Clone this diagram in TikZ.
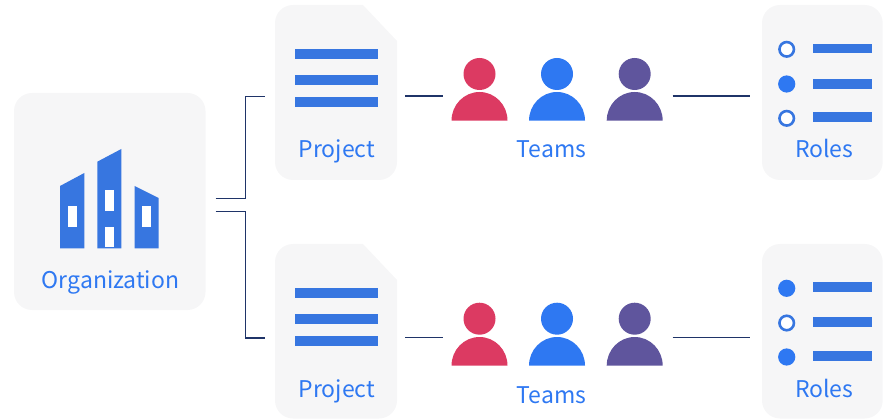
\documentclass[tikz,border=0pt]{standalone}
\usepackage{fontspec}
\setmainfont{Noto Sans CJK SC}
\definecolor{panel}{HTML}{F6F6F7}
\definecolor{iconblue}{HTML}{3776E0}
\definecolor{textblue}{HTML}{2E78F2}
\definecolor{navy}{HTML}{1F3468}
\definecolor{red1}{HTML}{DC3A62}
\definecolor{purple1}{HTML}{5F559D}
\tikzset{
  panelbox/.style={fill=panel,draw=none},
  barshape/.style={fill=iconblue,draw=none},
  wire/.style={draw=navy,line width=1.3pt},
  lbl/.style={text=textblue,font=\fontsize{23}{23}\selectfont,anchor=base,inner sep=0pt},
  ringdot/.style={circle,draw=iconblue,line width=2.6pt,fill=white,minimum size=14.5pt,inner sep=0pt},
  fulldot/.style={circle,fill=textblue,minimum size=17.2pt,inner sep=0pt},
}
\begin{document}
\begin{tikzpicture}[x=1pt,y=-1pt]
\useasboundingbox (0,0) rectangle (890,419);
% organization
\fill[panelbox,rounded corners=18pt] (14,93) rectangle (205.5,310);
\fill[barshape] (60,186) -- (84.3,173) -- (84.3,248.3) -- (60,248.3) -- cycle;
\fill[barshape] (97.3,161.7) -- (121.3,149) -- (121.3,248.3) -- (97.3,248.3) -- cycle;
\fill[barshape] (134.7,186) -- (158.7,198) -- (158.7,248.3) -- (134.7,248.3) -- cycle;
\fill[white] (68,205.7) rectangle (77.3,226.7);
\fill[white] (105,190) rectangle (114.3,210.7);
\fill[white] (105,226.7) rectangle (114.3,247.3);
\fill[white] (142,205.7) rectangle (151.3,226.7);
\node[lbl] (org) at (110.5,288) {Organization};
\coordinate (orgA) at (215.7,198.3);
\coordinate (orgB) at (215.7,211.3);
\coordinate (p1in) at (265,96.7);
\coordinate (p2in) at (265,338);
\draw[wire] (orgA) -| (245.7,96.7) -- (p1in);
\draw[wire] (orgB) -| (245.7,338) -- (p2in);
% project 1
\fill[panelbox] (275,100) [rounded corners=18pt] -- (275,5) [sharp corners] -- (363,5) -- (397,41) [rounded corners=18pt] -- (397,180) -- (275,180) -- cycle;
\fill[barshape] (295,49.3) rectangle (377.5,59.3);
\fill[barshape] (295,75) rectangle (377.5,85);
\fill[barshape] (295,97) rectangle (377.5,107);
\node[lbl] (proj1) at (336.7,158) {Project};
% project 2
\fill[panelbox] (275,340) [rounded corners=18pt] -- (275,244) [sharp corners] -- (363,244) -- (397,280) [rounded corners=18pt] -- (397,418.5) -- (275,418.5) -- cycle;
\fill[barshape] (295,288.3) rectangle (377.5,298.3);
\fill[barshape] (295,314.3) rectangle (377.5,324.3);
\fill[barshape] (295,336) rectangle (377.5,346);
\node[lbl] (proj2) at (336.7,397) {Project};
% connectors
\coordinate (a1) at (405,96); \coordinate (a2) at (442.5,96);
\coordinate (b1) at (672.5,96); \coordinate (b2) at (749.5,96);
\coordinate (c1) at (405,337.7); \coordinate (c2) at (442.5,337.7);
\coordinate (d1) at (672.5,337.7); \coordinate (d2) at (749.5,337.7);
\draw[wire] (a1) -- (a2);
\draw[wire] (b1) -- (b2);
\draw[wire] (c1) -- (c2);
\draw[wire] (d1) -- (d2);
% people top
\foreach \cx/\col in {479.5/red1,557/textblue,634.7/purple1}{
  \fill[\col] (\cx,74) circle (16);
  \fill[\col] (\cx-28,120.7) arc[start angle=180,end angle=360,x radius=28,y radius=28.7] -- cycle;
}
\node[lbl] (teams1) at (551.5,157.5) {Teams};
% people bottom
\foreach \cx/\col in {479.5/red1,557/textblue,634.7/purple1}{
  \fill[\col] (\cx,318.7) circle (16);
  \fill[\col] (\cx-28,365.7) arc[start angle=180,end angle=360,x radius=28,y radius=28.7] -- cycle;
}
\node[lbl] (teams2) at (551.5,403) {Teams};
% roles top
\fill[panelbox,rounded corners=18pt] (762,5) rectangle (882.7,180);
\node[ringdot] (r1a) at (786.7,49.3) {};
\node[fulldot] (r1b) at (786.7,84) {};
\node[ringdot] (r1c) at (786.7,118.3) {};
\fill[barshape] (813,43.7) rectangle (871.5,53.5);
\fill[barshape] (813,79) rectangle (871.5,88.7);
\fill[barshape] (813,112.3) rectangle (871.5,122);
\node[lbl] (roles1) at (824.3,158) {Roles};
% roles bottom
\fill[panelbox,rounded corners=18pt] (762,244) rectangle (882.7,418.5);
\node[fulldot] (r2a) at (786.7,288.3) {};
\node[ringdot] (r2b) at (786.7,323) {};
\node[fulldot] (r2c) at (786.7,357) {};
\fill[barshape] (813,282) rectangle (871.5,292);
\fill[barshape] (813,317.3) rectangle (871.5,327);
\fill[barshape] (813,351.3) rectangle (871.5,361);
\node[lbl] (roles2) at (824.3,397) {Roles};
\end{tikzpicture}
\end{document}
